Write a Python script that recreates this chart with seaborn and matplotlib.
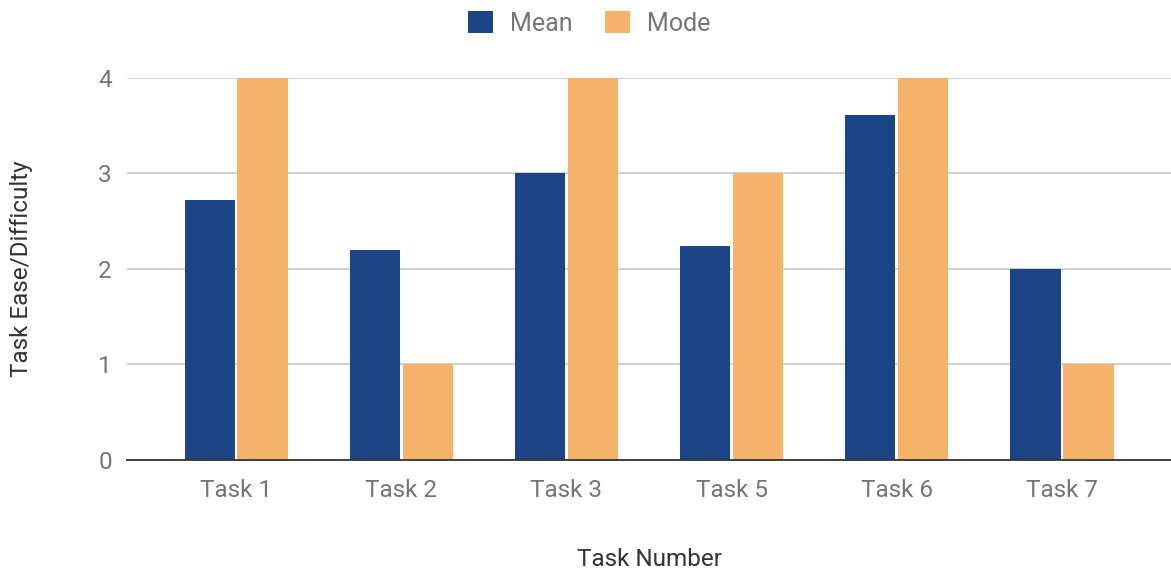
import matplotlib
matplotlib.use("Agg")
import matplotlib.pyplot as plt
import seaborn as sns
import pandas as pd
from matplotlib.patches import Patch

tasks = ["Task 1", "Task 2", "Task 3", "Task 5", "Task 6", "Task 7"]
mean_scores = [2.72, 2.2, 3.0, 2.24, 3.61, 2.0]
mode_scores = [4, 1, 4, 3, 4, 1]
series_names = ["Mean", "Mode"]
colors = ["#1c4587", "#f6b26b"]
y_ticks = [0, 1, 2, 3, 4]

df = pd.DataFrame({
    "task": tasks * 2,
    "stat": [series_names[0]] * len(tasks) + [series_names[1]] * len(tasks),
    "value": mean_scores + mode_scores,
})

sns.set_theme(style="white")
plt.rcParams["font.family"] = ["Roboto", "DejaVu Sans"]

fig = plt.figure(figsize=(11.71, 5.69), dpi=100)
ax = fig.add_axes([0.1085, 0.1916, 0.8915, 0.6714])

sns.barplot(data=df, x="task", y="value", hue="stat", palette=colors,
            width=0.64, gap=0.05, saturation=1, legend=False, ax=ax,
            linewidth=0, errorbar=None)

ax.set_ylim(0, 4)
ax.set_xlim(-0.66, len(tasks) - 1 + 0.66)
ax.set_yticks(y_ticks)
ax.yaxis.grid(True, color="#cccccc", linewidth=1.3)
ax.set_axisbelow(True)
for side in ["top", "right", "left"]:
    ax.spines[side].set_visible(False)
ax.spines["bottom"].set_color("#333333")
ax.spines["bottom"].set_linewidth(1.3)
ax.tick_params(axis="both", length=0, labelsize=17.5, labelcolor="#757575")
ax.tick_params(axis="x", pad=14)
ax.tick_params(axis="y", pad=11)

ax.set_xlabel("Task Number", fontsize=17.5, color="#333333", labelpad=33)
ax.set_ylabel("Task Ease/Difficulty", fontsize=17.5, color="#333333", labelpad=47)

handles = [Patch(facecolor=c, edgecolor="none") for c in colors]
fig.legend(handles, series_names, loc="upper center", bbox_to_anchor=(0.503, 1.02),
           ncol=2, frameon=False, fontsize=18, labelcolor="#757575",
           handlelength=1.0, handleheight=1.0, handletextpad=0.68, columnspacing=1.3)

fig.savefig("out.png", dpi=100, facecolor="white")
